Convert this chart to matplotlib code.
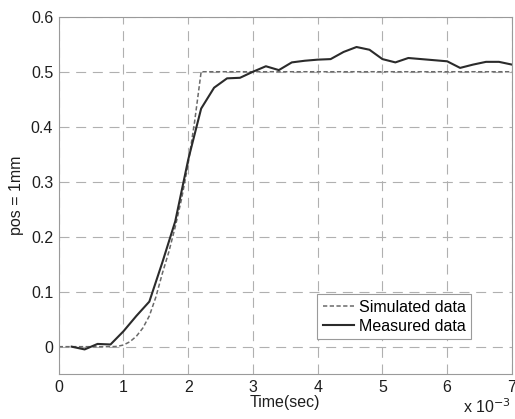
import matplotlib
matplotlib.use("Agg")
import matplotlib.pyplot as plt

plt.rcParams["font.family"] = ["Liberation Sans", "DejaVu Sans"]

# time in units of 1e-3 s
sim_time = [0.0, 0.2, 0.4, 0.6, 0.8, 0.9, 1.0, 1.1, 1.2, 1.3, 1.4, 1.5, 1.6, 1.7, 1.8,
            1.9, 2.0, 2.1, 2.2, 3.0, 4.0, 5.0, 6.0, 7.0]
sim_pos = [0.0, 0.0, 0.0, 0.0, 0.0, 0.0005, 0.003, 0.009, 0.019, 0.034, 0.056, 0.09, 0.133,
           0.172, 0.218, 0.27, 0.333, 0.41, 0.5, 0.5, 0.5, 0.5, 0.5, 0.5]

meas_time = [0.2, 0.4, 0.6, 0.8, 1.0, 1.2, 1.4, 1.6, 1.8, 2.0, 2.2, 2.4, 2.6, 2.8, 3.0,
             3.2, 3.4, 3.6, 3.8, 4.0, 4.2, 4.4, 4.6, 4.8, 5.0, 5.2, 5.4, 5.6, 5.8, 6.0,
             6.2, 6.4, 6.6, 6.8, 7.0]
meas_pos = [0.0, -0.005, 0.005, 0.004, 0.028, 0.056, 0.082, 0.153, 0.228, 0.34, 0.433,
            0.471, 0.488, 0.489, 0.5, 0.51, 0.503, 0.517, 0.52, 0.522, 0.523, 0.536,
            0.545, 0.54, 0.523, 0.517, 0.525, 0.523, 0.521, 0.519, 0.507, 0.513, 0.518,
            0.518, 0.513]

x_ticks = [0, 1, 2, 3, 4, 5, 6, 7]
y_ticks = [0, 0.1, 0.2, 0.3, 0.4, 0.5, 0.6]
y_tick_labels = ["0", "0.1", "0.2", "0.3", "0.4", "0.5", "0.6"]

FS = 11.5
TXT = "#1e1e1e"

fig = plt.figure(figsize=(5.15, 4.19), dpi=100)
ax = fig.add_axes([0.114, 0.107, 0.88, 0.853])

ax.plot(sim_time, sim_pos, color="#6a6a6a", lw=1.1, linestyle=(0, (2.8, 1.6)),
        label="Simulated data")
ax.plot(meas_time, meas_pos, color="#2b2b2b", lw=1.5, label="Measured data")

ax.set_xlim(0, 7)
ax.set_ylim(-0.05, 0.6)
ax.set_xticks(x_ticks)
ax.set_xticklabels([str(t) for t in x_ticks])
ax.set_yticks(y_ticks)
ax.set_yticklabels(y_tick_labels)
ax.tick_params(length=0, labelsize=FS, colors=TXT, pad=4)
ax.grid(True, color="#b0b0b0", linestyle=(0, (9, 6)), linewidth=0.8)
for spine in ax.spines.values():
    spine.set_color("#9a9a9a")
    spine.set_linewidth(0.8)

ax.set_xlabel("Time(sec)", fontsize=FS, color=TXT, labelpad=0)
ax.set_ylabel("pos = 1mm", fontsize=FS, color=TXT, labelpad=5)
ax.text(0.997, -0.108, "x 10$^{-3}$", transform=ax.transAxes, ha="right",
        va="baseline", fontsize=FS, color=TXT)

leg = ax.legend(loc="lower right", bbox_to_anchor=(0.91, 0.098), fontsize=FS,
                fancybox=False, framealpha=1, edgecolor="#9a9a9a",
                handlelength=1.95, handletextpad=0.3, borderpad=0.35, labelspacing=0.25,
                borderaxespad=0)
leg.get_frame().set_linewidth(0.8)

fig.savefig("out.png", dpi=100)
